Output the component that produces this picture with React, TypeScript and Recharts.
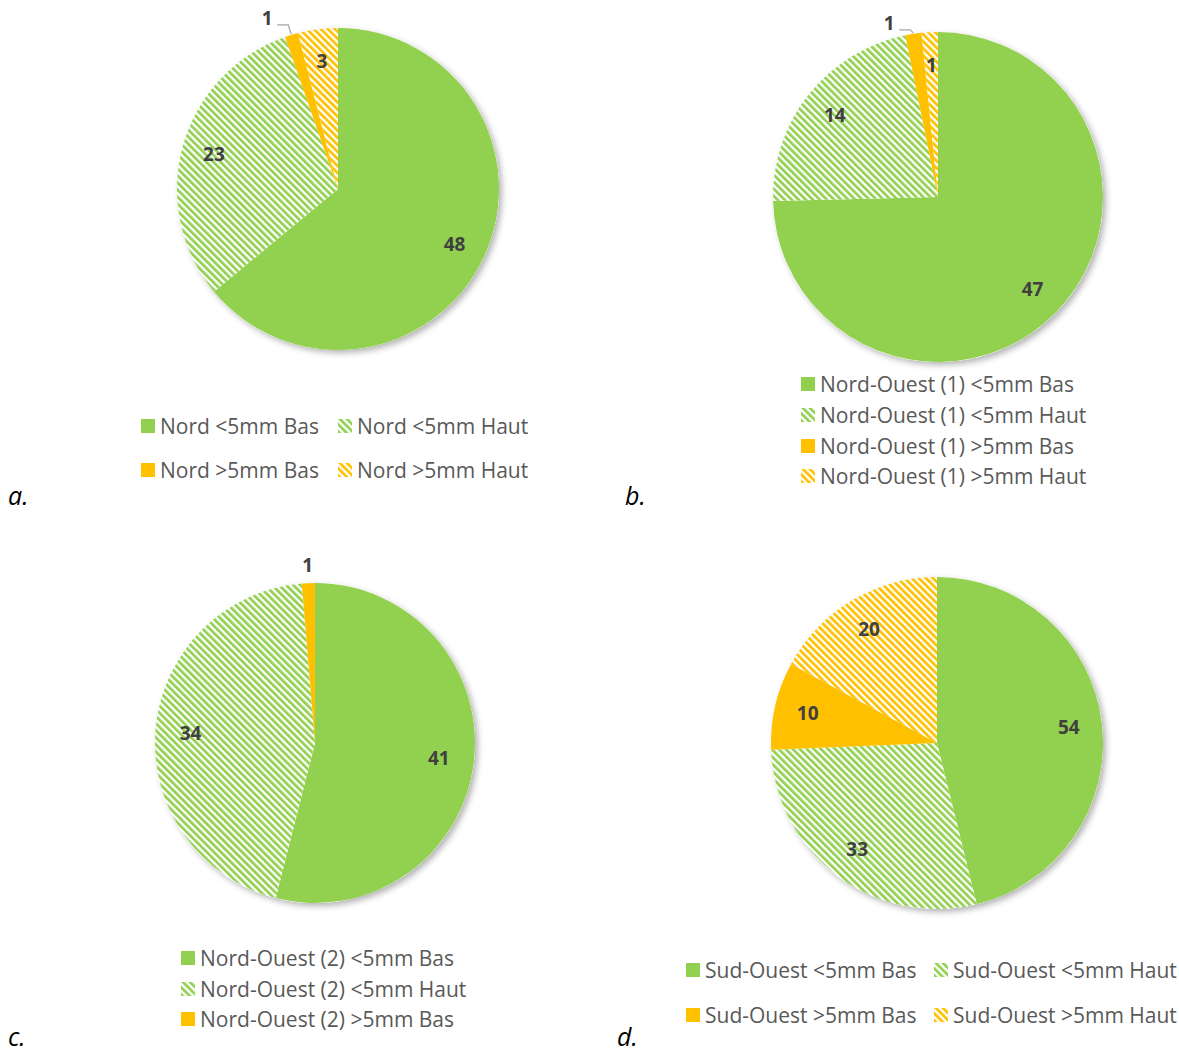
import React from "react";
import { PieChart, Pie, Cell, Legend } from "recharts";

const GREEN = "#92D050";
const ORANGE = "#FFC000";
const LABEL_COLOR = "#404040";
const LEGEND_COLOR = "#595959";
const FONT = "'Open Sans', 'Noto Sans', sans-serif";

// slice data, one pair of arrays per site
const nordNames = ["Nord <5mm Bas", "Nord <5mm Haut", "Nord >5mm Bas", "Nord >5mm Haut"];
const nordValues = [48, 23, 1, 3];

const no1Names = [
  "Nord-Ouest (1) <5mm Bas",
  "Nord-Ouest (1) <5mm Haut",
  "Nord-Ouest (1) >5mm Bas",
  "Nord-Ouest (1) >5mm Haut",
];
const no1Values = [47, 14, 1, 1];

const no2Names = ["Nord-Ouest (2) <5mm Bas", "Nord-Ouest (2) <5mm Haut", "Nord-Ouest (2) >5mm Bas"];
const no2Values = [41, 34, 1];

const soNames = ["Sud-Ouest <5mm Bas", "Sud-Ouest <5mm Haut", "Sud-Ouest >5mm Bas", "Sud-Ouest >5mm Haut"];
const soValues = [54, 33, 10, 20];

// same fill order for every pie
const fills = [GREEN, "url(#hatch-green)", ORANGE, "url(#hatch-orange)"];

type ChartCfg = {
  tag: string;
  names: string[];
  values: number[];
  left: number;
  top: number;
  cx: number;
  cy: number;
  r: number;
  labelR: number;
  outside: number[];
  leaderRise: number | null;
  legend: { left: number; top: number; cols: number; colW: number; rowH: number };
  tagPos: { left: number; top: number };
};

const QW = 590;
const QH = 527;

const charts: ChartCfg[] = [
  {
    tag: "a.", names: nordNames, values: nordValues,
    left: 0, top: 0, cx: 338, cy: 189, r: 161, labelR: 0.8,
    outside: [2], leaderRise: 9,
    legend: { left: 141, top: 404, cols: 2, colW: 197, rowH: 44 },
    tagPos: { left: 8, top: 478 },
  },
  {
    tag: "b.", names: no1Names, values: no1Values,
    left: 590, top: 0, cx: 348, cy: 197, r: 165, labelR: 0.8,
    outside: [2], leaderRise: 3,
    legend: { left: 211, top: 369, cols: 1, colW: 320, rowH: 30.7 },
    tagPos: { left: 35, top: 478 },
  },
  {
    tag: "c.", names: no2Names, values: no2Values,
    left: 0, top: 527, cx: 315, cy: 216, r: 160, labelR: 0.78,
    outside: [2], leaderRise: null,
    legend: { left: 181, top: 416, cols: 1, colW: 320, rowH: 30.5 },
    tagPos: { left: 8, top: 492 },
  },
  {
    tag: "d.", names: soNames, values: soValues,
    left: 590, top: 527, cx: 347, cy: 216, r: 166, labelR: 0.8,
    outside: [], leaderRise: null,
    legend: { left: 96, top: 420, cols: 2, colW: 248, rowH: 45 },
    tagPos: { left: 27, top: 492 },
  },
];

const RAD = Math.PI / 180;

const makeLabel = (c: ChartCfg) => (props: any) => {
  const { cx, cy, midAngle, outerRadius, index, value } = props;
  const cos = Math.cos(-midAngle * RAD);
  const sin = Math.sin(-midAngle * RAD);
  const textProps = {
    fill: LABEL_COLOR,
    fontSize: 19,
    fontWeight: 700,
    fontFamily: FONT,
    textAnchor: "middle" as const,
    dominantBaseline: "central" as const,
  };

  if (c.outside.includes(index)) {
    if (c.leaderRise == null) {
      const lr = outerRadius + 18;
      return (
        <text x={cx + lr * cos} y={cy + lr * sin} {...textProps}>
          {value}
        </text>
      );
    }
    // elbow leader line from the slice edge out to the left
    const ex = cx + (outerRadius + 1) * cos;
    const ey = cy + (outerRadius + 1) * sin;
    const mx = ex - 3;
    const my = ey - c.leaderRise;
    const tx = mx - 11;
    return (
      <g>
        <polyline points={`${ex},${ey} ${mx},${my} ${tx},${my}`} fill="none" stroke="#A6A6A6" strokeWidth={1.3} />
        <text x={tx - 10} y={my - 7} {...textProps}>
          {value}
        </text>
      </g>
    );
  }

  const lr = outerRadius * c.labelR;
  return (
    <text x={cx + lr * cos} y={cy + lr * sin} {...textProps}>
      {value}
    </text>
  );
};

const LegendIcon = ({ fill }: { fill: string }) => (
  <svg width={14} height={14} style={{ flex: "none" }}>
    <rect width={14} height={14} fill={fill} />
  </svg>
);

const LegendBox = ({ c }: { c: ChartCfg }) => (
  <div
    style={{
      display: "grid",
      gridTemplateColumns: `repeat(${c.legend.cols}, ${c.legend.colW}px)`,
      gridAutoRows: `${c.legend.rowH}px`,
      fontFamily: FONT,
      fontSize: 21,
      color: LEGEND_COLOR,
      whiteSpace: "nowrap",
    }}
  >
    {c.names.map((name, i) => (
      <div key={name} style={{ display: "flex", alignItems: "center", gap: 5 }}>
        <LegendIcon fill={fills[i]} />
        <span>{name}</span>
      </div>
    ))}
  </div>
);

const SitePie = ({ c }: { c: ChartCfg }) => {
  const data = c.names.map((name, i) => ({ name, value: c.values[i] }));
  return (
    <div style={{ position: "absolute", left: c.left, top: c.top, width: QW, height: QH }}>
      <PieChart width={QW} height={QH} margin={{ top: 0, right: 0, bottom: 0, left: 0 }}>
        {/* white disc underneath carries the soft shadow */}
        <Pie
          data={[{ name: "bg", value: 1 }]}
          dataKey="value"
          cx={c.cx}
          cy={c.cy}
          outerRadius={c.r}
          stroke="none"
          isAnimationActive={false}
          legendType="none"
        >
          <Cell fill="#fff" filter="url(#pie-shadow)" />
        </Pie>
        <Pie
          data={data}
          dataKey="value"
          nameKey="name"
          cx={c.cx}
          cy={c.cy}
          outerRadius={c.r}
          startAngle={90}
          endAngle={-270}
          stroke="none"
          label={makeLabel(c)}
          labelLine={false}
          isAnimationActive={false}
        >
          {data.map((d, i) => (
            <Cell key={d.name} fill={fills[i]} />
          ))}
        </Pie>
        <Legend
          content={() => <LegendBox c={c} />}
          wrapperStyle={{ left: c.legend.left, top: c.legend.top, bottom: "auto", width: "auto", height: "auto" }}
        />
      </PieChart>
      <div
        style={{
          position: "absolute",
          left: c.tagPos.left,
          top: c.tagPos.top,
          fontFamily: FONT,
          fontStyle: "italic",
          fontSize: 25,
          color: "#000",
        }}
      >
        {c.tag}
      </div>
    </div>
  );
};

export default function App() {
  return (
    <div style={{ position: "absolute", left: 0, top: 0, width: 1179, height: 1054, background: "#fff", overflow: "hidden" }}>
      <svg width={0} height={0} style={{ position: "absolute" }}>
        <defs>
          <pattern id="hatch-green" width={5} height={5} patternUnits="userSpaceOnUse" patternTransform="rotate(-45)">
            <rect width={5} height={5} fill="#fff" />
            <rect width={2.7} height={5} fill={GREEN} />
          </pattern>
          <pattern id="hatch-orange" width={5} height={5} patternUnits="userSpaceOnUse" patternTransform="rotate(-45)">
            <rect width={5} height={5} fill="#fff" />
            <rect width={2.7} height={5} fill={ORANGE} />
          </pattern>
          <filter id="pie-shadow" x="-20%" y="-20%" width="140%" height="140%">
            <feDropShadow dx={3} dy={3} stdDeviation={3} floodColor="#000" floodOpacity={0.3} />
          </filter>
        </defs>
      </svg>
      {charts.map((c) => (
        <SitePie key={c.tag} c={c} />
      ))}
    </div>
  );
}
